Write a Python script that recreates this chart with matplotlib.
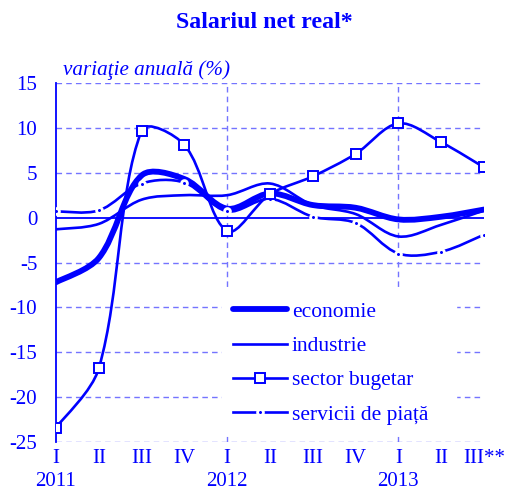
import matplotlib as mpl
import matplotlib.pyplot as plt
import numpy as np
from matplotlib.lines import Line2D
from matplotlib.patches import PathPatch
from matplotlib.path import Path

mpl.rcParams.update({
    "font.family": ["Liberation Serif", "DejaVu Serif"],
    "font.size": 15,
})

BLUE = "#0000FF"
GRID = "#7474FF"

quarters = ["I", "II", "III", "IV", "I", "II", "III", "IV", "I", "II", "III**"]
years = ["2011", "", "", "", "2012", "", "", "", "2013", "", ""]
yticks = [15, 10, 5, 0, -5, -10, -15, -20, -25]

economie = [-7.2, -4.5, 4.7, 4.3, 1.0, 2.7, 1.4, 1.1, -0.2, 0.1, 0.9]
industrie = [-1.3, -0.7, 2.0, 2.5, 2.5, 3.8, 1.4, 0.4, -2.1, -0.8, 0.8]
bugetar = [-23.4, -16.8, 9.7, 8.1, -1.5, 2.6, 4.6, 7.1, 10.5, 8.4, 5.6]
servicii = [0.7, 0.8, 3.8, 3.9, 0.7, 2.1, 0.1, -0.6, -4.0, -3.8, -1.9]

# pixel size of one data unit, used to weight the smoothing like Excel does
XPX, YPX = 42.8, 9.0


def smooth_path(x, y):
    # smoothed line: Bezier segments, tangent split by neighbouring chord lengths
    p = np.column_stack([x, y]).astype(float)
    s = np.array([XPX, YPX])
    n = len(p)
    seg = [np.hypot(*((p[i + 1] - p[i]) * s)) for i in range(n - 1)]
    out_c, in_c = [], []
    for i in range(n):
        prev = p[max(i - 1, 0)]
        nxt = p[min(i + 1, n - 1)]
        tang = nxt - prev
        d0 = seg[i - 1] if i > 0 else 0.0
        d1 = seg[i] if i < n - 1 else 0.0
        tot = d0 + d1
        f1 = d1 / tot if tot else 0
        f0 = d0 / tot if tot else 0
        if i == 0 or i == n - 1:
            f0 = f1 = 0.5
        out_c.append(p[i] + tang * f1 / 3)
        in_c.append(p[i] - tang * f0 / 3)
    verts = [p[0]]
    codes = [Path.MOVETO]
    for i in range(n - 1):
        verts += [out_c[i], in_c[i + 1], p[i + 1]]
        codes += [Path.CURVE4] * 3
    return Path(verts, codes)


fig = plt.figure(figsize=(5.05, 4.92), dpi=100)
ax = fig.add_axes([56 / 505, 1 - 442 / 492, 428 / 505, 359 / 492])
x = np.arange(len(quarters))

for v in [15, 10, 5, -5, -10, -15, -20, -25]:
    ax.axhline(v, color=GRID, lw=1.0, ls=(0, (4, 3)), zorder=1)
for xv in [4, 8]:
    ax.axvline(xv, color=GRID, lw=1.0, ls=(0, (4, 3)), zorder=1)
ax.axhline(0, color=BLUE, lw=1.3, zorder=2)

series = [
    (economie, 4.2, "economie"),
    (industrie, 1.9, "industrie"),
    (bugetar, 1.9, "sector bugetar"),
    (servicii, 1.9, "servicii de piață"),
]
for vals, lw, _ in series:
    patch = PathPatch(smooth_path(x, vals), fill=False, edgecolor=BLUE, lw=lw,
                      capstyle="round", joinstyle="round", zorder=3)
    ax.add_patch(patch)

ax.plot(x, bugetar, ls="none", marker="s", ms=6.5, mfc="white", mec=BLUE, mew=1.4, zorder=5)
ax.plot(x, servicii, ls="none", marker="o", ms=4.2, mfc=BLUE, mec="white", mew=2.0, zorder=4)

ax.set_xlim(0, 10)
ax.set_ylim(-25, 15)
for s in ["top", "right", "bottom"]:
    ax.spines[s].set_visible(False)
ax.spines["left"].set_color(BLUE)
ax.spines["left"].set_linewidth(1.3)
ax.set_yticks(yticks, [str(v) for v in yticks])
ax.set_xticks(x, [q + ("\n" + yr if yr else "") for q, yr in zip(quarters, years)],
              va="top", linespacing=1.3)
ax.tick_params(axis="y", length=0, pad=13.5, colors=BLUE, labelsize=15)
ax.tick_params(axis="x", length=0, pad=5, colors=BLUE, labelsize=15)

handles = [
    Line2D([], [], color=BLUE, lw=4.2, solid_capstyle="round"),
    Line2D([], [], color=BLUE, lw=1.9),
    Line2D([], [], color=BLUE, lw=1.9, marker="s", ms=6.5, mfc="white", mec=BLUE, mew=1.4),
    Line2D([], [], color=BLUE, lw=1.9, marker="o", ms=4.2, mfc=BLUE, mec="white", mew=2.0),
]
leg = ax.legend(handles, [s[2] for s in series], loc="upper left", mode="expand",
                bbox_to_anchor=(222 / 505, 1 - 428 / 492, 234 / 505, 137 / 492),
                bbox_transform=fig.transFigure,
                frameon=True, fancybox=False, edgecolor="white", facecolor="white",
                framealpha=1, numpoints=1, handlelength=2.5, handletextpad=0.25,
                labelspacing=0.66, borderpad=0.5, borderaxespad=0, fontsize=15.5)
leg.set_zorder(6)
for t in leg.get_texts():
    t.set_color(BLUE)

fig.text(264 / 505, 1 - 22 / 492, "Salariul net real*", ha="center", va="center",
         fontsize=17.2, fontweight="bold", color=BLUE)
fig.text(63 / 505, 1 - 70 / 492, "variaţie anuală (%)", ha="left", va="center",
         fontsize=15.2, style="italic", color=BLUE)

fig.savefig("out.png", dpi=100)
